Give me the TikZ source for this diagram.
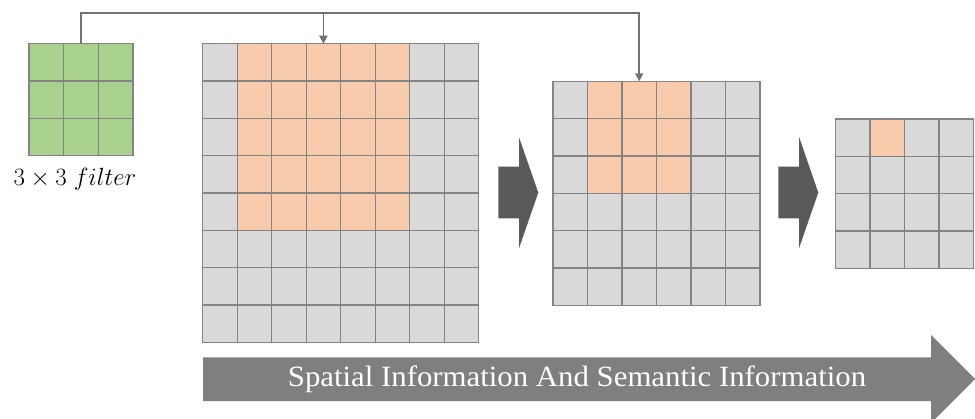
\documentclass[tikz,border=0pt]{standalone}
\usetikzlibrary{arrows.meta}
\usepackage{fontspec}
\newfontfamily\timesfont{Liberation Serif}
\definecolor{cellgray}{HTML}{D9D9D9}
\definecolor{cellorange}{HTML}{F8CBAD}
\definecolor{cellgreen}{HTML}{A9D18E}
\definecolor{gridline}{HTML}{848484}
\definecolor{connline}{HTML}{767171}
\definecolor{blockdark}{HTML}{595959}
\definecolor{blockmid}{HTML}{7F7F7F}
\begin{document}
\begin{tikzpicture}[x=1pt,y=-1pt,
  cell/.style={draw=gridline, line width=1.3pt, minimum width=34.5pt, minimum height=37.33pt, inner sep=0pt, outer sep=0pt, anchor=north west},
  conn/.style={draw=connline, line width=1.8pt, -{Triangle[length=8pt,width=8pt]}},
  connplain/.style={draw=connline, line width=1.8pt},
  blockarrow/.style={fill=blockdark, draw=none}
]
\useasboundingbox (0,0) rectangle (975,418);
\clip (0,0) rectangle (975,418);

% filter 3x3
\foreach \c in {0,...,2} \foreach \r in {0,...,2} {
  \node[cell, fill=cellgreen, minimum width=34.67pt] (f-\c-\r) at (29+\c*34.67, 43.7+\r*37.33) {};
}
\node[anchor=base, font=\fontsize{23}{23}\selectfont, inner sep=0pt] (flabel) at (75,185) {$3\times 3\ filter$};

% big grid 8x8
\foreach \c in {0,...,7} \foreach \r in {0,...,7} {
  \def\fc{cellgray}
  \ifnum\c>0 \ifnum\c<6 \ifnum\r<5 \def\fc{cellorange}\fi\fi\fi
  \node[cell, fill=\fc] (big-\c-\r) at (202.7+\c*34.5, 43.7+\r*37.33) {};
}

% medium grid 6x6
\foreach \c in {0,...,5} \foreach \r in {0,...,5} {
  \def\fc{cellgray}
  \ifnum\c>0 \ifnum\c<4 \ifnum\r<3 \def\fc{cellorange}\fi\fi\fi
  \node[cell, fill=\fc] (med-\c-\r) at (553+\c*34.5, 81.3+\r*37.33) {};
}

% small grid 4x4
\foreach \c in {0,...,3} \foreach \r in {0,...,3} {
  \def\fc{cellgray}
  \ifnum\c=1 \ifnum\r=0 \def\fc{cellorange}\fi\fi
  \node[cell, fill=\fc] (small-\c-\r) at (835.5+\c*34.5, 119+\r*37.33) {};
}

% connectors
\coordinate (top) at (0,13.3);
\draw[conn] (f-1-0.north) -- (f-1-0.north |- top) -| (med-2-0.north);
\draw[conn] (big-3-0.north |- top) -- (big-3-0.north);

% block arrows between grids
\fill[blockdark] (498.3,166.7) -- (519,166.7) -- (519,137.3) -- (538.3,192.6) -- (519,248.3) -- (519,218.3) -- (498.3,218.3) -- cycle;
\fill[blockdark] (778.3,166.5) -- (799,166.5) -- (799,136.7) -- (818.3,192.6) -- (799,248.3) -- (799,218.3) -- (778.3,218.3) -- cycle;

% big bottom arrow
\fill[blockmid] (203,357.3) -- (931,357.3) -- (931,335) -- (975,379) -- (931,423) -- (931,401) -- (203,401) -- cycle;
\node[text=white, font=\timesfont\fontsize{28}{28}\selectfont, inner sep=0pt] (label) at (577,379) {\scalebox{1.1}[1.05]{Spatial Information And Semantic Information}};
\end{tikzpicture}
\end{document}
